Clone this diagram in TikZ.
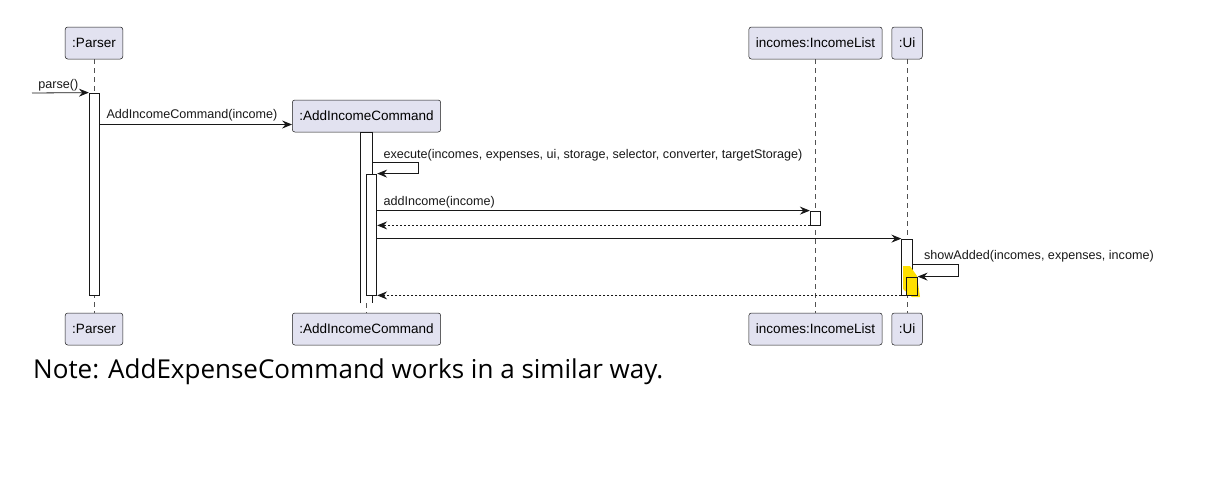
\documentclass[tikz,border=0pt]{standalone}
\usepackage{fontspec}
\setmainfont{Liberation Sans}
\newfontfamily\notefont{Open Sans}
\usepackage{tikz}
\usetikzlibrary{arrows.meta, positioning, calc}

\definecolor{partfill}{HTML}{E2E2F0}
\definecolor{umlline}{HTML}{181818}
\definecolor{hilite}{HTML}{FFE000}

\tikzset{
	part/.style={draw=umlline, fill=partfill, rounded corners=2.5pt, line width=0.5pt,
		minimum height=32pt, inner xsep=7pt, inner ysep=0pt,
		font=\fontsize{13.5}{16}\selectfont},
	act/.style={draw=umlline, fill=white, line width=0.8pt, minimum width=10.5pt, inner sep=0pt},
	life/.style={umlline!75, line width=0.6pt, dash pattern=on 5pt off 4pt},
	msg/.style={umlline, line width=0.8pt, -{Stealth[length=10pt, width=8pt, inset=3.5pt]}},
	ret/.style={msg, dash pattern=on 2pt off 2pt},
	lbl/.style={font=\fontsize{12.6}{14}\selectfont, inner sep=0pt, anchor=base west}
}

\begin{document}
\begin{tikzpicture}[x=1pt, y=-1pt]
	\useasboundingbox (0,0) rectangle (1228,493);

	% partecipanti
	\node[part] (parserT) at (94,43) {:Parser};
	\node[part] (parserB) at (94,329) {:Parser};
	\node[part] (aicT) at (366.5,116) {:AddIncomeCommand};
	\node[part] (aicB) at (366.5,329) {:AddIncomeCommand};
	\node[part] (listT) at (815.5,43) {incomes:IncomeList};
	\node[part] (listB) at (815.5,329) {incomes:IncomeList};
	\node[part] (uiT) at (907,43) {:Ui};
	\node[part] (uiB) at (907,329) {:Ui};

	% linee di vita
	\draw[life] (parserT) -- (parserB);
	\draw[life] (aicT) -- (aicB);
	\draw[life] (listT) -- (listB);
	\draw[life] (uiT) -- (uiB);

	% attivazioni
	\node[act, minimum height=202pt] (actP) at (94.5,194) {};
	\node[act, draw=none, minimum height=170pt] (actA) at (366.5,218) {};
	\draw[umlline, line width=0.8pt] (actA.south west) |- (actA.north east) -- (actA.south east);
	\node[act, minimum height=121pt] (actA2) at (371.5,234.5) {};
	\node[act, minimum height=14pt] (actL) at (815.5,218) {};
	\node[act, minimum height=56pt] (actU) at (907,267) {};
	\fill[hilite] (903,266) -- (910,266) -- (917,276) -- (920,297) -- (912,297) -- (903,289) -- cycle;
	\node[act, fill=hilite, minimum height=18pt] (actU2) at (912,286) {};

	% righe dei messaggi
	\coordinate (start) at (32,93);
	\coordinate (m2) at (0,124.5);
	\coordinate (m3) at (0,162);
	\coordinate (m7) at (0,264);

	% messaggi
	\draw[msg] (start) -- (actP.north west)
		node[lbl, pos=0, xshift=6pt, yshift=5pt] (lparse) {parse()};
	\draw[msg] (actP.east |- m2) -- (aicT.west |- m2)
		node[lbl, pos=0, xshift=6pt, yshift=6pt] (lnew) {AddIncomeCommand(income)};
	\draw[msg] (actA.east |- m3)
		-- node[lbl, pos=0, xshift=11pt, yshift=4pt] (lexec) {execute(incomes, expenses, ui, storage, selector, converter, targetStorage)}
		++(46,0) |- (actA2.north east);
	\draw[msg] (actA2.east |- actL.north) -- (actL.north west)
		node[lbl, pos=0, xshift=6pt, yshift=5pt] (ladd) {addIncome(income)};
	\draw[ret] (actL.south west) -- (actA2.east |- actL.south);
	\draw[msg] (actA2.east |- actU.north) -- (actU.north west);
	\draw[msg] (actU.east |- m7)
		-- node[lbl, pos=0, xshift=11pt, yshift=5pt] (lshow) {showAdded(incomes, expenses, income)}
		++(46,0) |- (actU2.north east);
	\draw[ret] (actU.south west) -- (actA2.south east);

	% nota
	\node[anchor=base west, inner sep=0pt, font=\notefont\fontsize{26}{31}\selectfont] (note) at (33,378) {Note: AddExpenseCommand works in a similar way.};
\end{tikzpicture}
\end{document}
